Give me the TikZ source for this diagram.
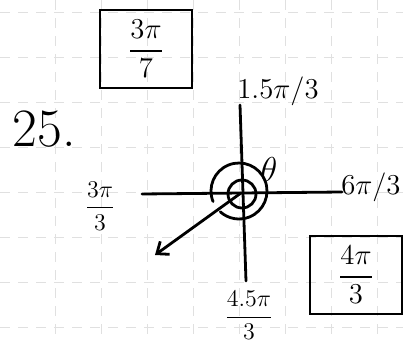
\documentclass[tikz,border=0pt]{standalone}
\usepackage{amsmath}
\usepackage{tikz}
\usetikzlibrary{arrows.meta}

\begin{document}
\begin{tikzpicture}[x=0.5pt, y=-0.5pt,
  pen/.style={line width=1.4pt, line cap=round},
  answer/.style={draw, line width=1.4pt, minimum width=46pt, minimum height=39pt, inner sep=0pt, font=\fontsize{15}{17}\selectfont},
  gridline/.style={black!12, dash pattern=on 5pt off 4pt, line width=0.4pt},
  lbl/.style={inner sep=0pt, font=\fontsize{14}{16}\selectfont}]
  \useasboundingbox (0,0) rectangle (403,342);
  \foreach \gy in {12,57,...,342} \draw[gridline] (0,\gy) -- (403,\gy);
  \foreach \gx in {55,101,...,403} \draw[gridline] (\gx,0) -- (\gx,342);
  \node[answer] (first) at (146,49) {$\displaystyle\frac{3\pi}{7}$};
  \node[lbl, font=\fontsize{27}{30}\selectfont] (number) at (44,129) {25.};
  \coordinate (O) at (241,193);
  \coordinate (N) at (240,105);
  \coordinate (S) at (246,281);
  \coordinate (W) at (142,194);
  \coordinate (E) at (342,192);
  \coordinate (tip) at (155,255);
  \draw[pen] (N) -- (S);
  \draw[pen] (W) -- (E);
  \draw[pen, -{Straight Barb[length=5pt, width=8pt]}] (O) -- (tip);
  \draw[pen] ([shift={(1,1)}]O) circle[radius=14];
  \draw[pen] ([shift={(-2,-2)}]O) ++(158:28) arc[start angle=158, end angle=492, radius=28];
  \node[lbl, font=\fontsize{16}{18}\selectfont] (theta) at (269,170) {$\theta$};
  \node[lbl] (up) at (278,91) {$1.5\pi/3$};
  \node[lbl, anchor=east] (right) at (401,187) {$6\pi/3$};
  \node[lbl, font=\fontsize{13}{15}\selectfont] (left) at (100,206) {$\displaystyle\frac{3\pi}{3}$};
  \node[lbl, font=\fontsize{13}{15}\selectfont, anchor=south] (down) at (249,340) {$\displaystyle\frac{4.5\pi}{3}$};
  \node[answer] (second) at (356,275) {$\displaystyle\frac{4\pi}{3}$};
\end{tikzpicture}
\end{document}
